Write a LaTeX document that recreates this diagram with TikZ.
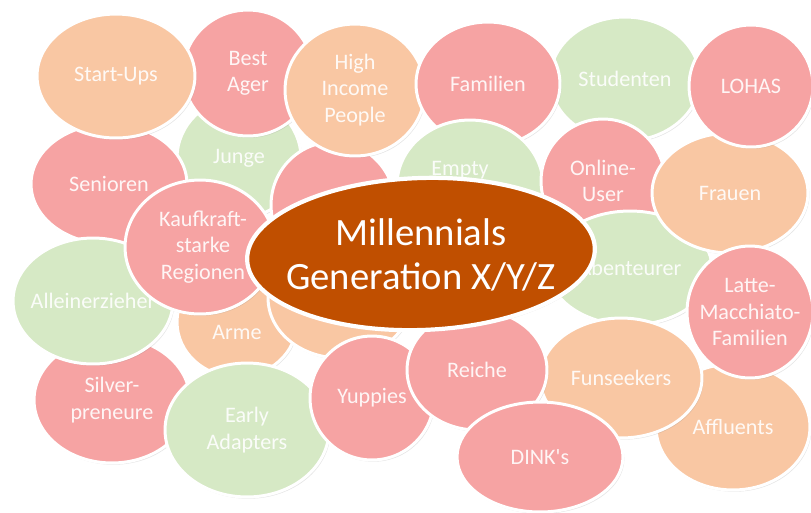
\documentclass[tikz,border=0pt]{standalone}
\usepackage{fontspec}
\setmainfont{Carlito}
\usetikzlibrary{shapes.geometric, shadows}

\definecolor{bubpink}{HTML}{F6A3A3}
\definecolor{bubpeach}{HTML}{F9C7A3}
\definecolor{bubgreen}{HTML}{D6E9C5}
\definecolor{corebrown}{HTML}{C04F00}

\tikzset{
    bubble/.style 2 args={ellipse, draw=white, line width=1.7pt, inner sep=0pt,
        minimum width=#1*0.04cm, minimum height=#2*0.04cm,
        drop shadow={shadow xshift=0.8pt, shadow yshift=-1pt, opacity=0.2}},
    pinkbub/.style={fill=bubpink},
    peachbub/.style={fill=bubpeach},
    greenbub/.style={fill=bubgreen},
    bubtext/.style={text=white, text opacity=0.9, align=center, inner sep=0pt,
        font=\fontsize{12.6}{15}\selectfont},
    coretext/.style={text=white, align=center, inner sep=0pt,
        font=\fontsize{22}{25}\selectfont}
}

\begin{document}
\begin{tikzpicture}[x=0.02cm, y=-0.02cm]
        \useasboundingbox[fill=white] (0,0) rectangle (811,512);

        \node[bubble={62}{60}, greenbub, label={[bubtext]center:Junge}] (junge) at (239,158) {};
        \node[bubble={78}{60}, pinkbub, label={[bubtext]center:Senioren}] (senioren) at (109,184) {};
        \node[bubble={65}{63}, pinkbub, label={[bubtext]center:{Best\\Ager}}] (bestager) at (248,73) {};
        \node[bubble={79}{62}, peachbub, label={[bubtext]center:Start-Ups}] (startups) at (116,76) {};
        \node[bubble={62}{63}, pinkbub] (pinkback) at (333,205) {};
        \node[bubble={70}{66}, peachbub, label={[bubtext]center:{High\\Income\\People}}] (highincome) at (355,90) {};
        \node[bubble={75}{62}, greenbub, label={[bubtext]center:Studenten}] (studenten) at (625,79) {};
        \node[bubble={72}{62}, pinkbub, label={[bubtext]center:Familien}] (familien) at (488,84) {};
        \node[bubble={73}{65}, greenbub] (empty) at (470,185) {};
        \node[bubtext] (emptytext) at (460,170) {Empty};
        \node[bubble={62}{62}, pinkbub, label={[bubtext]center:{Online-\\User}}] (online) at (603,181) {};
        \node[bubble={82}{57}, greenbub, label={[bubtext]center:Abenteurer}] (abenteurer) at (630,268) {};
        \node[bubble={78}{60}, peachbub, label={[bubtext]center:Frauen}] (frauen) at (730,193) {};
        \node[bubble={62}{61}, pinkbub, label={[bubtext]center:LOHAS}] (lohas) at (751,86) {};
        \node[bubble={77}{63}, peachbub, label={[bubtext]center:Affluents}] (affluents) at (733,427) {};
        \node[bubble={63}{66}, pinkbub, label={[bubtext]center:{Latte-\\Macchiato-\\Familien}}] (latte) at (750,312) {};

        \node[bubble={78}{63}, pinkbub, label={[bubtext]center:{Silver-\\preneure}}] (silver) at (112,400) {};
        \node[bubble={80}{63}, greenbub, label={[bubtext]center:Alleinerzieher}] (allein) at (93,301) {};
        \node[bubble={60}{55}, peachbub] (arme) at (237,322) {};
        \node[bubtext] (armetext) at (237,332) {Arme};
        \node[bubble={75}{67}, pinkbub, label={[bubtext, xshift=1.7pt]center:{Kaufkraft-\\starke\\Regionen}}] (kaufkraft) at (200,247) {};
        \node[bubble={72}{60}, peachbub] (peachback) at (340,298) {};
        \node[bubble={82}{67}, greenbub, label={[bubtext]center:{Early\\Adapters}}] (early) at (247,430) {};
        \node[bubble={62}{62}, pinkbub, label={[bubtext]center:Yuppies}] (yuppies) at (372,398) {};
        \node[bubble={81}{60}, peachbub, label={[bubtext]center:Funseekers}] (funseekers) at (621,378) {};
        \node[bubble={70}{60}, pinkbub, label={[bubtext]center:Reiche}] (reiche) at (477,370) {};
        \node[bubble={83}{55}, pinkbub, label={[bubtext]center:DINK\textquotesingle s}] (dinks) at (540,457) {};

        \node[bubble={174}{76}, fill=corebrown, line width=2.4pt, rotate=2] (core) at (421,254) {};
        \node[coretext] (coretitle) at (421,255) {Millennials\\Generation X/Y/Z};
\end{tikzpicture}
\end{document}
